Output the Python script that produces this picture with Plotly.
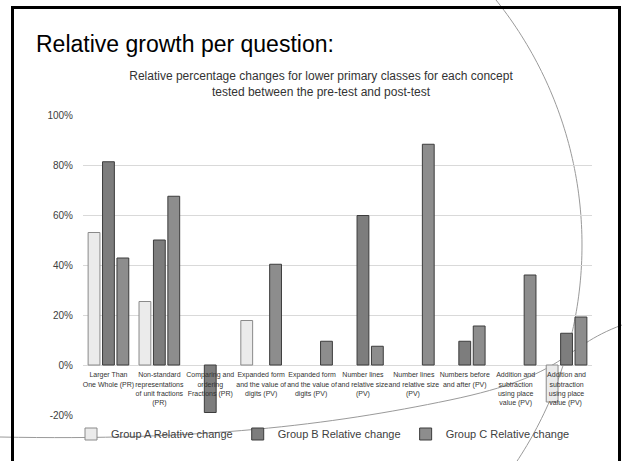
import math
import plotly.graph_objects as go

# Concepts tested (category axis labels)
concepts = [
    "Larger Than<br>One Whole (PR)",
    "Non-standard<br>representations<br>of unit fractions<br>(PR)",
    "Comparing and<br>ordering<br>Fractions (PR)",
    "Expanded form<br>and the value of<br>digits (PV)",
    "Expanded form<br>and the value of<br>digits (PV) ",
    "Number lines<br>and relative size<br>(PV)",
    "Number lines<br>and relative size<br>(PV) ",
    "Numbers before<br>and after (PV)",
    "Addition and<br>subtraction<br>using place<br>value (PV)",
    "Addition and<br>subtraction<br>using place<br>value (PV) ",
]

# Relative change (%) between pre-test and post-test (None = no change recorded)
group_a = [53.0, 25.4, None, 17.8, None, None, None, None, None, -14.8]
group_b = [81.3, 50.0, -19.0, None, None, 59.8, None, 9.5, None, 12.7]
group_c = [42.8, 67.5, None, 40.3, 9.5, 7.5, 88.3, 15.6, 36.0, 19.2]

series_names = ["Group A Relative change", "Group B Relative change", "Group C Relative change"]
y_ticks = [-20, 0, 20, 40, 60, 80, 100]
y_tick_text = [f"{v}%" for v in y_ticks]

# Page size and plot-area edges in pixels; the layout has no margins, so
# paper coordinates span the whole page.
W, H = 622, 461
PLOT_L, PLOT_R, PLOT_T, PLOT_B = 83, 592, 115, 415


def fx(x):
    return x / W


def fy(y):
    return 1 - y / H


def pt(x, y):
    return f"{fx(x):.5f},{fy(y):.5f}"


styles = [
    dict(color="#ebebeb", line=dict(color="#8a8a8a", width=1)),
    dict(color="#7d7d7d", line=dict(color="#3c3c3c", width=1)),
    dict(color="#8d8d8d", line=dict(color="#3c3c3c", width=1)),
]

fig = go.Figure()
for name, vals, st in zip(series_names, [group_a, group_b, group_c], styles):
    fig.add_trace(go.Bar(x=concepts, y=vals, name=name, marker=st))

y_lo, y_hi = y_ticks[0], y_ticks[-1]
y_dom = [fy(PLOT_B), fy(PLOT_T)]
zero_pos = y_dom[0] + (0 - y_lo) / (y_hi - y_lo) * (y_dom[1] - y_dom[0])

fig.update_layout(
    width=W, height=H,
    margin=dict(l=0, r=0, t=0, b=0, pad=0),
    plot_bgcolor="rgba(0,0,0,0)",
    barmode="group",
    bargap=0.15,
    bargroupgap=0.18,
    font=dict(family="Liberation Sans, Arial, sans-serif", color="#404040"),
    title=dict(
        text="Relative percentage changes for lower primary classes for each concept<br>tested between the pre-test and post-test",
        x=fx(321), xref="paper", xanchor="center",
        y=fy(80), yanchor="middle",
        font=dict(size=12, color="#333333"),
    ),
    xaxis=dict(
        type="category",
        domain=[fx(PLOT_L), fx(PLOT_R)],
        anchor="free",
        position=zero_pos,
        tickangle=0,
        automargin=False,
        showgrid=False,
        showline=False,
        ticks="outside",
        ticklen=3,
        tickcolor="rgba(0,0,0,0)",
        tickfont=dict(size=7, color="#333333"),
    ),
    yaxis=dict(
        domain=y_dom,
        range=[y_lo, y_hi],
        automargin=False,
        tickmode="array",
        tickvals=y_ticks,
        ticktext=y_tick_text,
        showgrid=True,
        gridcolor="#d9d9d9",
        gridwidth=1,
        zeroline=True,
        zerolinecolor="#d9d9d9",
        zerolinewidth=1,
        showline=False,
        ticks="outside",
        ticklen=7,
        tickcolor="rgba(0,0,0,0)",
        tickfont=dict(size=10, color="#404040"),
    ),
    legend=dict(
        orientation="h",
        x=fx(323), xanchor="center",
        y=fy(434), yanchor="middle",
        bgcolor="rgba(0,0,0,0)",
        font=dict(size=11, color="#404040"),
    ),
)

# Slide heading
fig.add_annotation(
    text="Relative growth per question:",
    xref="paper", yref="paper",
    x=fx(34), y=fy(44), xanchor="left", yanchor="middle",
    showarrow=False,
    font=dict(family="Liberation Sans, Arial, sans-serif", size=23, color="black"),
)

# Slide frame: left, top and right edges
for x0, y0, x1, y1 in [(12.5, 7.5, 12.5, 461), (11, 7.5, 621, 7.5), (619.5, 7.5, 619.5, 461)]:
    fig.add_shape(type="line", xref="paper", yref="paper",
                  x0=fx(x0), y0=fy(y0), x1=fx(x1), y1=fy(y1),
                  line=dict(color="black", width=3), layer="above")

# Theme decoration: large arc on the right
cx, cy, r = 190, 245, 392
arc = []
for k in range(0, 121):
    a = math.radians(-45 + 90 * k / 120)
    arc.append((cx + r * math.cos(a), cy + r * math.sin(a)))
arc_path = "M " + " L ".join(pt(x, y) for x, y in arc)
fig.add_shape(type="path", xref="paper", yref="paper", path=arc_path,
              line=dict(color="#9a9a9a", width=1), layer="below")

# Theme decoration: sweeping line along the bottom
sweep = (f"M {pt(0, 437)} C {pt(200, 441)} {pt(330, 425)} {pt(450, 400)} "
         f"S {pt(560, 348)} {pt(622, 325)}")
fig.add_shape(type="path", xref="paper", yref="paper", path=sweep,
              line=dict(color="#9a9a9a", width=1), layer="below")

fig.write_html("out.html")
